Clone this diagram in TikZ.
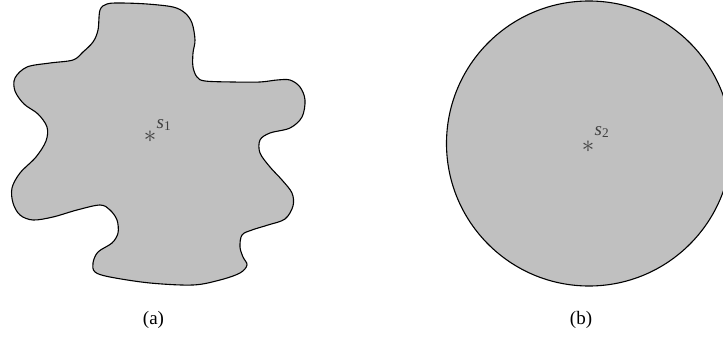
\documentclass[tikz,border=0pt]{standalone}
\usepackage{fontspec}
\setmainfont{Liberation Serif}
\definecolor{regiongray}{RGB}{192,192,192}
\begin{document}
\begin{tikzpicture}[x=1pt,y=-1pt,
  region/.style={draw=black, line width=1.1pt, fill=regiongray, line join=round},
  lbl/.style={inner sep=0pt, font=\fontsize{19}{22}\selectfont},
  pt/.style={inner sep=0pt, font=\fontsize{28}{30}\selectfont, text=black!75},
  sub/.style={inner sep=0pt, font=\fontsize{19}{22}\selectfont, text=black!75}]
\useasboundingbox (0,0) rectangle (723,337);
\begin{scope}
\clip (0,0) rectangle (723,337);
% irregular region (a)
\draw[region] plot[smooth cycle, tension=0.55] coordinates {
(100,10) (98,30) (93,42) (83,52) (73,60) (50,63) (27,67) (15,78) (15,91)
(24,104) (38,114) (47,127) (46,141) (36,157) (20,173) (12,188) (13,203)
(20,215) (33,220) (53,217) (77,210) (100,205) (110,210) (117,220) (118,233)
(112,243) (98,252) (93,263) (95,272) (110,277) (150,283) (193,285) (220,280)
(240,273) (247,265) (243,257) (240,247) (242,235) (252,230) (268,225)
(285,219) (293,206) (292,193) (282,180) (270,167) (260,153) (260,140)
(270,133) (290,128) (302,117) (305,100) (300,87) (290,80) (277,80) (260,82)
(233,82) (205,81) (197,77) (193,67) (193,53) (195,40) (192,23) (185,13)
(173,7) (147,4) (120,3) (107,4)};
% disc (b)
\draw[region] (589,143.5) circle[radius=142.5];
\end{scope}
\node[pt] (a1) at (150,137) {$\ast$};
\node[sub] (s1) at (164,125) {\textit{s}\textsubscript{1}};
\node[pt] (a2) at (588,147) {$\ast$};
\node[sub] (s2) at (602,132) {\textit{s}\textsubscript{2}};
\node[lbl] (la) at (153.5,320) {(a)};
\node[lbl] (lb) at (581,320) {(b)};
\end{tikzpicture}
\end{document}
